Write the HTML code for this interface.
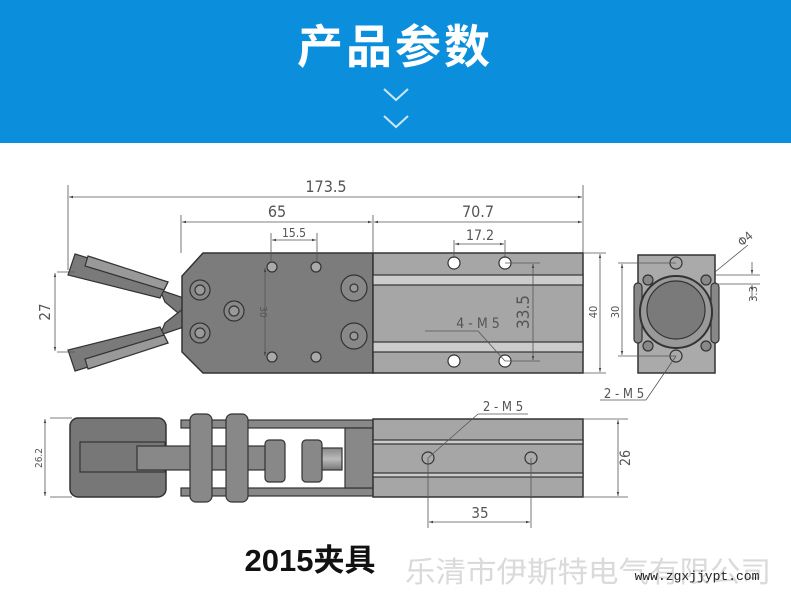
<!DOCTYPE html>
<html><head><meta charset="utf-8"><style>
html,body{margin:0;padding:0;background:#fff;}
svg{display:block;}
.d{font-family:"DejaVu Sans Condensed","Liberation Sans",sans-serif;fill:#555;}
</style></head><body>
<svg width="791" height="598" viewBox="0 0 791 598" xmlns="http://www.w3.org/2000/svg">
<defs>
<marker id="a" viewBox="0 0 10 10" refX="10" refY="5" markerWidth="7" markerHeight="5" orient="auto-start-reverse"><path d="M0,2 L10,5 L0,8z" fill="#444"/></marker>
<linearGradient id="g1" x1="0" y1="0" x2="0" y2="1"><stop offset="0" stop-color="#888"/><stop offset=".5" stop-color="#bbb"/><stop offset="1" stop-color="#777"/></linearGradient>
</defs>
<rect x="0" y="0" width="791" height="143" fill="#0b8fdc"/>
<text x="395" y="63" text-anchor="middle" font-family="'Noto Sans CJK SC',sans-serif" font-weight="bold" font-size="46" fill="#fff" letter-spacing="3">产品参数</text>
<path d="M384,89 L396,100 L408,89 M384,116 L396,127 L408,116" stroke="#cde8f7" stroke-width="2" fill="none"/>

<g stroke="#333" stroke-width="1.2">
<!-- top view fingers -->
<polygon points="160,290 184,298 184,318 165,302" fill="#777"/>
<polygon points="160,335 184,327 184,308 165,323" fill="#777"/>
<polygon points="75,254 168,282 160,298 68,275" fill="#7a7a7a"/>
<polygon points="88,256 168,282 164,290 85,266" fill="#999"/>
<polygon points="75,371 168,343 160,327 68,350" fill="#7a7a7a"/>
<polygon points="88,369 168,343 164,335 85,359" fill="#999"/>
<!-- plate -->
<polygon points="203,253 373,253 373,373 203,373 182,352 182,276" fill="#7c7c7c" stroke-width="1.5"/>
<!-- rail -->
<rect x="373" y="253" width="210" height="120" fill="#a6a6a6" stroke-width="1.5"/>
<rect x="373" y="275" width="210" height="10" fill="#ccc"/>
<rect x="373" y="342" width="210" height="10" fill="#ccc"/>
<!-- screws -->
<g fill="#888"><circle cx="200" cy="290" r="10"/><circle cx="200" cy="333" r="10"/><circle cx="234" cy="311" r="10"/><circle cx="354" cy="288" r="13"/><circle cx="354" cy="336" r="13"/></g>
<g fill="#999"><circle cx="200" cy="290" r="5"/><circle cx="200" cy="333" r="5"/><circle cx="234" cy="311" r="5"/><circle cx="354" cy="288" r="4"/><circle cx="354" cy="336" r="4"/></g>
<g fill="#aaa"><circle cx="272" cy="267" r="5"/><circle cx="316" cy="267" r="5"/><circle cx="272" cy="357" r="5"/><circle cx="316" cy="357" r="5"/></g>
<g fill="#fff"><circle cx="454" cy="263" r="6"/><circle cx="505" cy="263" r="6"/><circle cx="454" cy="361" r="6"/><circle cx="505" cy="361" r="6"/></g>
<!-- end view -->
<rect x="638" y="255" width="77" height="118" fill="#aaa" stroke-width="1.5"/>
<g fill="#888"><rect x="634" y="283" width="8" height="60" rx="4"/><rect x="711" y="283" width="8" height="60" rx="4"/><circle cx="648" cy="280" r="5"/><circle cx="706" cy="280" r="5"/><circle cx="648" cy="346" r="5"/><circle cx="706" cy="346" r="5"/></g>
<circle cx="676" cy="312" r="36" fill="#999" stroke-width="2"/>
<circle cx="676" cy="310" r="29" fill="#7a7a7a"/>
<g fill="#aaa"><circle cx="676" cy="263" r="6"/><circle cx="676" cy="356" r="6"/></g>
<!-- bottom view -->
<rect x="70" y="418" width="96" height="79" rx="8" fill="#777" stroke-width="1.5"/>
<rect x="80" y="442" width="85" height="30" fill="#777"/>
<rect x="137" y="446" width="130" height="24" fill="#888"/>
<rect x="181" y="420" width="192" height="8" fill="#888"/>
<rect x="181" y="488" width="192" height="8" fill="#888"/>
<rect x="190" y="414" width="22" height="88" rx="6" fill="#888"/>
<rect x="226" y="414" width="22" height="88" rx="6" fill="#888"/>
<rect x="265" y="440" width="20" height="42" rx="4" fill="#888"/>
<rect x="302" y="440" width="20" height="42" rx="4" fill="#888"/>
<rect x="322" y="448" width="20" height="22" fill="url(#g1)"/>
<rect x="345" y="428" width="28" height="60" fill="#888"/>
<rect x="373" y="419" width="210" height="78" fill="#a6a6a6" stroke-width="1.5"/>
<rect x="373" y="440" width="210" height="4" fill="#ccc"/>
<rect x="373" y="473" width="210" height="4" fill="#ccc"/>
<circle cx="428" cy="458" r="6" fill="#aaa"/><circle cx="531" cy="458" r="6" fill="#aaa"/>
</g>

<!-- dimension lines -->
<g stroke="#555" stroke-width="0.8" fill="none">
<path d="M68,185 V270 M583,185 V253 M181,215 V253 M373,215 V253 M271,233 V262 M317,233 V262 M454,240 V258 M505,240 V258"/>
<line x1="69" y1="197" x2="582" y2="197" marker-start="url(#a)" marker-end="url(#a)"/>
<line x1="182" y1="222" x2="372" y2="222" marker-start="url(#a)" marker-end="url(#a)"/>
<line x1="374" y1="222" x2="582" y2="222" marker-start="url(#a)" marker-end="url(#a)"/>
<line x1="272" y1="240" x2="316" y2="240" marker-start="url(#a)" marker-end="url(#a)"/>
<line x1="455" y1="244" x2="504" y2="244" marker-start="url(#a)" marker-end="url(#a)"/>
<path d="M57,272 H75 M57,352 H75"/>
<line x1="55" y1="273" x2="55" y2="351" marker-start="url(#a)" marker-end="url(#a)"/>
<line x1="265" y1="268" x2="265" y2="356" marker-start="url(#a)" marker-end="url(#a)"/>
<path d="M505,263 H540 M505,361 H540"/>
<line x1="533" y1="264" x2="533" y2="360" marker-start="url(#a)" marker-end="url(#a)"/>
<path d="M583,253 H606 M583,373 H606 M676,263 H618 M676,356 H618"/>
<line x1="600" y1="254" x2="600" y2="372" marker-start="url(#a)" marker-end="url(#a)"/>
<line x1="622" y1="264" x2="622" y2="355" marker-start="url(#a)" marker-end="url(#a)"/>
<path d="M425,331 H478 L505,361"/>
<path d="M600,400 H646 L676,356"/>
<path d="M715,272 L748,245 M715,275 H760 M715,284 H760"/>
<line x1="752" y1="262" x2="752" y2="274" marker-end="url(#a)"/>
<line x1="752" y1="300" x2="752" y2="285" marker-end="url(#a)"/>
<path d="M478,414 H528 M478,414 L428,458"/>
<path d="M428,458 V528 M531,458 V528 M583,419 H628 M583,497 H628 M50,418 H72 M50,497 H72"/>
<line x1="429" y1="522" x2="530" y2="522" marker-start="url(#a)" marker-end="url(#a)"/>
<line x1="618" y1="420" x2="618" y2="496" marker-start="url(#a)" marker-end="url(#a)"/>
<line x1="45" y1="419" x2="45" y2="496" marker-start="url(#a)" marker-end="url(#a)"/>
</g>
<g class="d">
<text x="326" y="192" font-size="16" text-anchor="middle">173.5</text>
<text x="277" y="217" font-size="16" text-anchor="middle">65</text>
<text x="478" y="217" font-size="16" text-anchor="middle">70.7</text>
<text x="294" y="237" font-size="12" text-anchor="middle">15.5</text>
<text x="480" y="240" font-size="14" text-anchor="middle">17.2</text>
<text x="478" y="328" font-size="14" text-anchor="middle">4 - M 5</text>
<text x="624" y="398" font-size="13" text-anchor="middle">2 - M 5</text>
<text x="503" y="411" font-size="13" text-anchor="middle">2 - M 5</text>
<text x="480" y="518" font-size="15" text-anchor="middle">35</text>
<text transform="translate(50,312) rotate(-90)" font-size="15" text-anchor="middle">27</text>
<text transform="translate(529,312) rotate(-90)" font-size="17" text-anchor="middle">33.5</text>
<text transform="translate(260,312) rotate(90)" font-size="10" text-anchor="middle">30</text>
<text transform="translate(597,312) rotate(-90)" font-size="11" text-anchor="middle">40</text>
<text transform="translate(619,312) rotate(-90)" font-size="11" text-anchor="middle">30</text>
<text transform="translate(757,294) rotate(-90)" font-size="11" text-anchor="middle">3.3</text>
<text transform="translate(742,247) rotate(-40)" font-size="12">Φ4</text>
<text transform="translate(630,458) rotate(-90)" font-size="14" text-anchor="middle">26</text>
<text transform="translate(42,458) rotate(-90)" font-size="10" text-anchor="middle">26.2</text>
</g>
<text x="310" y="571" text-anchor="middle" font-family="'Liberation Sans','Noto Sans CJK SC',sans-serif" font-weight="bold" font-size="31" fill="#111">2015夹具</text>
<text x="588" y="582" text-anchor="middle" font-family="'Noto Sans CJK SC',sans-serif" font-size="29" fill="#dadada" textLength="366" lengthAdjust="spacingAndGlyphs">乐清市伊斯特电气有限公司</text>
<text x="697" y="580" text-anchor="middle" font-family="'Liberation Mono',monospace" font-size="13" fill="#222">www.zgxjjypt.com</text>
</svg>
</body></html>
